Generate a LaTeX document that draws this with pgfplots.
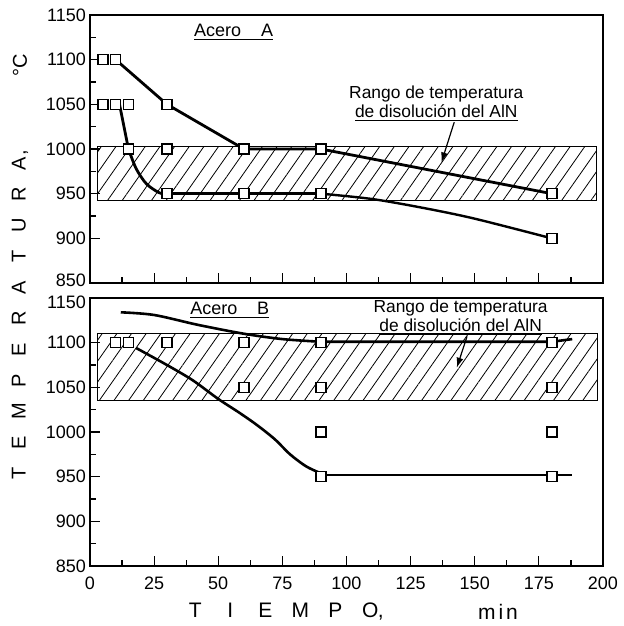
\documentclass[border=0pt]{standalone}
\usepackage{fontspec}
\setmainfont{Liberation Sans}
\usepackage{pgfplots}
\pgfplotsset{compat=1.18}
\usetikzlibrary{patterns.meta,arrows.meta}

\pgfplotsset{
  panel/.style={
    scale only axis,
    width=256.5pt, height=134pt,
    xmin=0, xmax=200, ymin=850, ymax=1150,
    xtick={0,25,...,200},
    minor x tick num=1, minor y tick num=1,
    tick align=inside, tick pos=left,
    major tick length=5pt, minor tick length=3pt,
    axis line style={line width=0.6pt},
    every tick/.style={black, line width=0.6pt},
    tick label style={font=\fontsize{9}{10}\selectfont},
    /pgf/number format/assume math mode=true,
    /pgf/number format/1000 sep={},
    yticklabel style={xshift=1.5pt},
    xticklabel style={yshift=-2pt},
  },
  curve/.style={black, line width=1.4pt},
  pts/.style={only marks, mark=square*, mark size=2.5pt,
    mark options={fill=white, draw=black, line width=0.8pt}},
  hatch/.style={draw=black, line width=0.5pt,
    pattern={Lines[angle=55,distance=6pt,line width=0.4pt]}},
}

\begin{document}
\begin{tikzpicture}
% ---- Acero A ----
\begin{axis}[panel, at={(0,0)}, anchor=south west, xticklabels={},
    ytick={900,950,...,1150}, extra y ticks={850},
    extra y tick style={yticklabel style={yshift=1.5pt}}]
  \addplot[hatch] coordinates {(3,942) (197.5,942) (197.5,1003) (3,1003) (3,942)};
  \addplot[curve] coordinates {(10,1100) (30,1050) (60,1000) (90,1000) (180,950)};
  \addplot[curve] coordinates {(11.5,1050) (15,1000)};
  \addplot[curve, smooth] coordinates {(15,1000) (18,978) (22,961) (27,951) (30,950)};
  \addplot[curve] coordinates {(30,950) (90,950)};
  \addplot[curve, line width=1.2pt, smooth] coordinates {(90,950) (110,944) (130,934) (150,922) (180,900)};
  \addplot[pts] coordinates {
    (5,1100) (10,1100) (5,1050) (10,1050) (15,1050) (15,1000)
    (30,1050) (30,1000) (30,950) (60,1000) (60,950)
    (90,1000) (90,950) (180,950) (180,900)};
  \node[font=\fontsize{9}{10}\selectfont] at (axis cs:56,1131) {\underline{Acero\hspace{1.1em}A}};
  \node[font=\fontsize{8.7}{9.5}\selectfont, align=center] at (axis cs:135,1051)
    {Rango de temperatura\\\underline{de disolución del AlN}};
  \draw[-{Latex[length=5pt,width=3.5pt]}, line width=0.6pt] (axis cs:142,1030) -- (axis cs:137,985);
\end{axis}
% ---- Acero B ----
\begin{axis}[panel, at={(0,-141.5pt)}, anchor=south west,
    ytick={850,900,...,1100}, extra y ticks={1150},
    extra y tick style={yticklabel style={yshift=-2pt}}]
  \addplot[hatch] coordinates {(3,1035) (198,1035) (198,1110) (3,1110) (3,1035)};
  \addplot[curve, line width=1.3pt, smooth] coordinates {(12,1134) (25,1131) (42,1120) (60,1110) (75,1104) (90,1101)};
  \addplot[curve, line width=1.3pt] coordinates {(90,1101) (180,1101) (188,1104)};
  \addplot[curve, line width=1.3pt, smooth] coordinates {
    (18,1094) (30,1075) (40,1058) (50,1037) (58,1022) (65,1008)
    (72,992) (78,975) (84,962) (89,955) (92,952)};
  \addplot[curve, line width=1.3pt] coordinates {(92,952) (180,952) (188,952)};
  \addplot[pts] coordinates {
    (10,1100) (15,1100) (30,1100) (60,1100) (60,1050)
    (90,1100) (90,1050) (90,1000) (90,950)
    (180,1100) (180,1050) (180,1000) (180,950)};
  \node[font=\fontsize{9}{10}\selectfont] at (axis cs:54.5,1136) {\underline{Acero\hspace{1.1em}B}};
  \node[font=\fontsize{8.7}{9.5}\selectfont, align=center] at (axis cs:144.5,1128)
    {Rango de temperatura\\\underline{de disolución del AlN}};
  \draw[-{Latex[length=5pt,width=3.5pt]}, line width=0.6pt] (axis cs:147,1107) -- (axis cs:143,1072);
\end{axis}
% ---- axis titles ----
\node[rotate=90, anchor=west, inner sep=0pt, font=\fontsize{10}{12}\selectfont] at (-35pt,-103.25pt)
  {\makebox[15.5pt]{T}\makebox[15.5pt]{E}\makebox[15.5pt]{M}\makebox[15.5pt]{P}\makebox[15.5pt]{E}%
   \makebox[15.5pt]{R}\makebox[15.5pt]{A}\makebox[15.5pt]{T}\makebox[15.5pt]{U}\makebox[15.5pt]{R}%
   \makebox[15.5pt]{A}\makebox[0pt][l]{\hspace{-3.5pt},}};
\node[rotate=90, font=\fontsize{10}{12}\selectfont] at (-35pt,109pt) {°C};
\node[anchor=west, inner sep=0pt, font=\fontsize{10.5}{12}\selectfont] at (43.75pt,-164.5pt)
  {\makebox[17.5pt]{T}\makebox[17.5pt]{I}\makebox[17.5pt]{E}\makebox[17.5pt]{M}%
   \makebox[17.5pt]{P}\makebox[17.5pt]{O}\makebox[0pt][l]{\hspace{-5pt},}};
\node[font=\fontsize{10.5}{12}\selectfont] at (204pt,-164.5pt) {m\hspace{1.5pt}i\hspace{1.5pt}n};
\pgfresetboundingbox
\path[use as bounding box] (-45pt,141.5pt) rectangle (266.5pt,-171.5pt);
\end{tikzpicture}
\end{document}
